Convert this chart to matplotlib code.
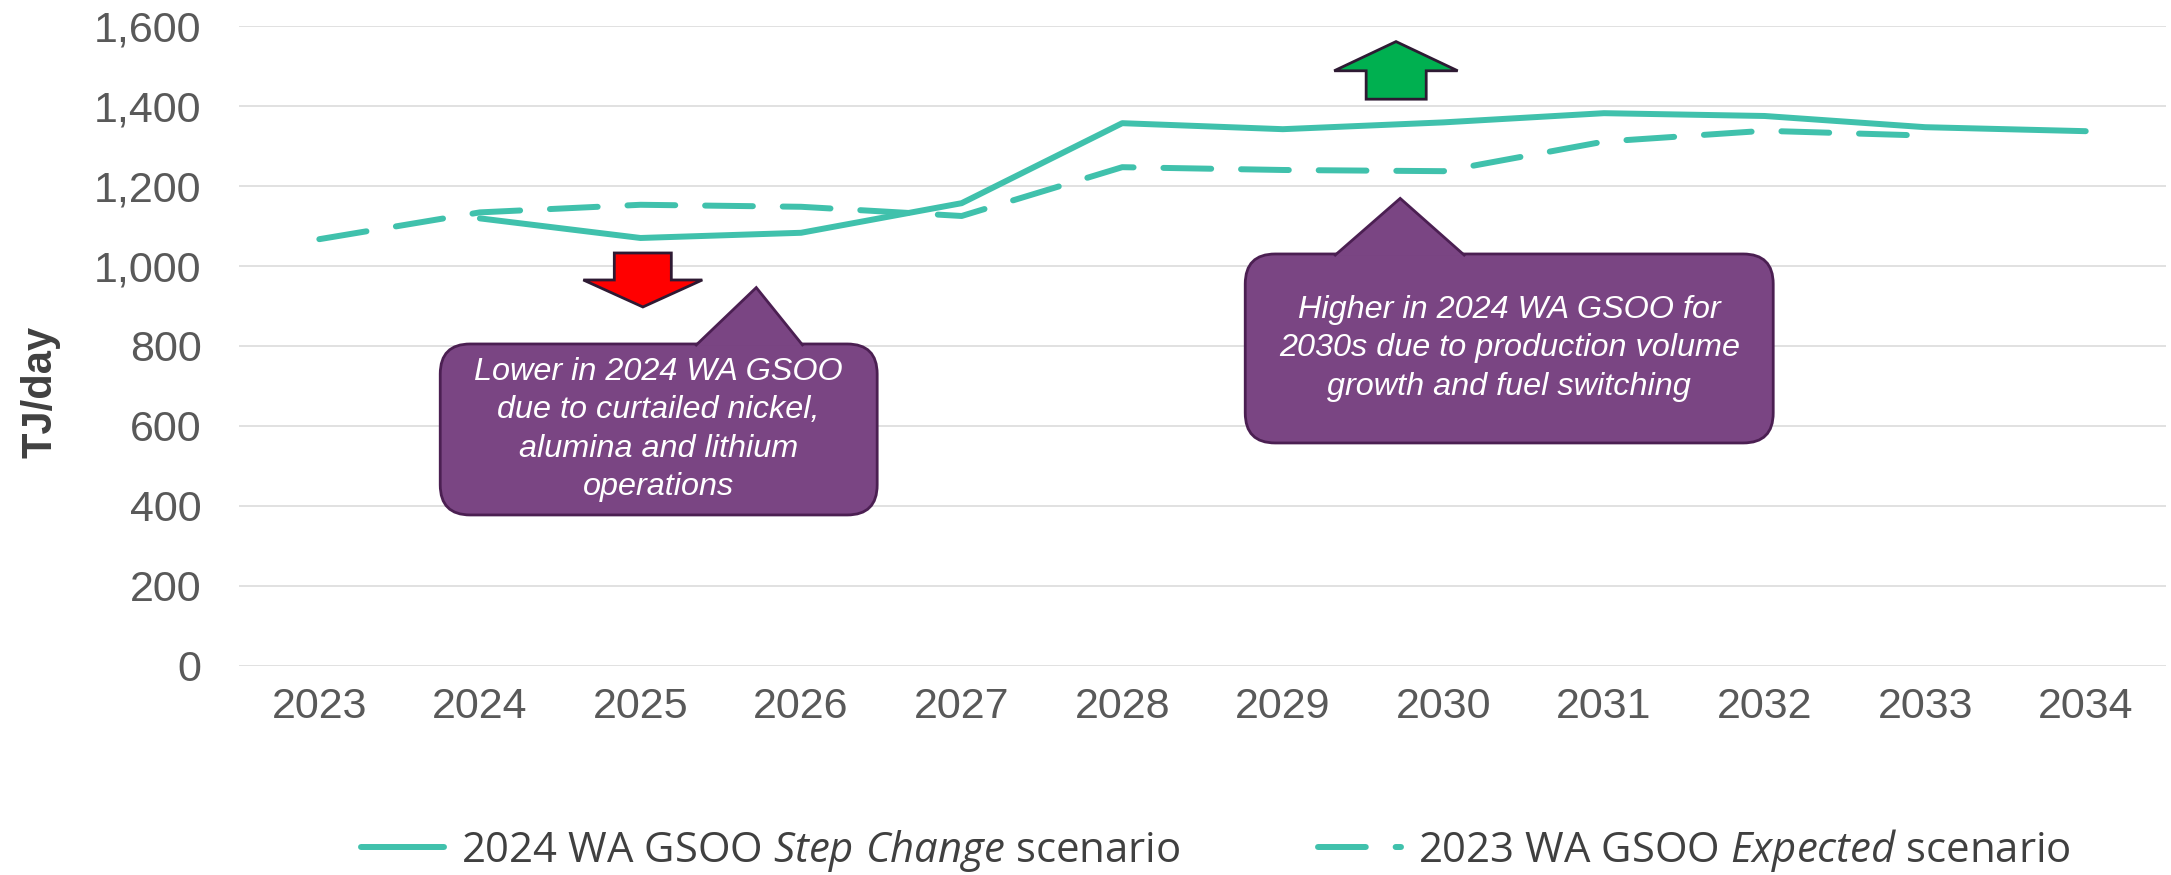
import numpy as np
import matplotlib
matplotlib.use("Agg")
import matplotlib.pyplot as plt
from matplotlib.patches import FancyBboxPatch, Polygon

plt.rcParams["font.family"] = ["Liberation Sans", "DejaVu Sans"]
plt.rcParams["mathtext.fontset"] = "custom"
plt.rcParams["mathtext.rm"] = "Open Sans"
plt.rcParams["mathtext.it"] = "Open Sans:italic"

# data (TJ/day)
years = list(range(2023, 2035))
step_change_2024 = [np.nan, 1119, 1070, 1083, 1157, 1357, 1342, 1359, 1382, 1375, 1347, 1337]
expected_2023 = [1067, 1134, 1153, 1148, 1125, 1247, 1240, 1237, 1311, 1338, 1326, np.nan]
yticks = list(range(0, 1601, 200))

label_step = r"2024 WA GSOO $\mathit{Step\ Change}$ scenario"
label_exp = r"2023 WA GSOO $\mathit{Expected}$ scenario"
note_low = "Lower in 2024 WA GSOO\ndue to curtailed nickel,\nalumina and lithium\noperations"
note_high = "Higher in 2024 WA GSOO for\n2030s due to production volume\ngrowth and fuel switching"

teal = "#40C1AC"
purple = "#7A4583"
purple_edge = "#4B1F52"
grey_txt = "#595959"

fig = plt.figure(figsize=(21.71, 8.75), dpi=100)
ax = fig.add_axes([0.1101, 0.2389, 0.8876, 0.7314])
x = np.arange(len(years))

l1, = ax.plot(x, step_change_2024, color=teal, lw=4.3, solid_capstyle="round",
              solid_joinstyle="round", zorder=3, label=label_step)
l2, = ax.plot(x, expected_2023, color=teal, lw=4.3, dash_capstyle="round",
              dash_joinstyle="round", zorder=3, label=label_exp)
l2.set_dashes((8, 5))

ax.set_xlim(-0.5, len(years) - 0.5)
ax.set_ylim(0, 1600)
ax.set_xticks(x, [str(y) for y in years])
ax.set_yticks(yticks, [f"{v:,}" for v in yticks])
ax.tick_params(length=0, labelsize=31, colors=grey_txt)
ax.tick_params(axis="y", pad=27)
ax.tick_params(axis="x", pad=15)
ax.grid(axis="y", color="#D9D9D9", lw=1.1)
ax.set_axisbelow(True)
for s in ax.spines.values():
    s.set_visible(False)
ax.set_ylabel("TJ/day", fontsize=30, fontweight="bold", color="#404040")
ax.yaxis.set_label_coords(-0.0924, 0.428)

# pixel scale so the rounded corners stay round
p0 = ax.transData.transform((0, 0))
xpp = ax.transData.transform((1, 0))[0] - p0[0]
ypp = ax.transData.transform((0, 1))[1] - p0[1]


def callout(x0, x1, y0, y1, base, apex, text):
    r = 30 / xpp
    box = FancyBboxPatch((x0, y0), x1 - x0, y1 - y0,
                         boxstyle=f"round,pad=0,rounding_size={r}",
                         mutation_aspect=xpp / ypp, fc=purple, ec=purple_edge,
                         lw=2, zorder=5)
    ax.add_patch(box)
    eps = 2 / ypp
    tri = Polygon([(base[0], y1 - eps), apex, (base[1], y1 - eps)], closed=False,
                  fc=purple, ec=purple_edge, lw=2, zorder=6)
    ax.add_patch(tri)
    ax.text((x0 + x1) / 2, (y0 + y1) / 2, text, ha="center", va="center",
            multialignment="center", color="white", fontsize=23.3,
            style="italic", linespacing=1.37, zorder=7)


def arrow(pts, color):
    ax.add_patch(Polygon(pts, closed=True, fc=color, ec="#2E1A33", lw=2, zorder=6))


callout(0.753, 3.474, 377.5, 805, (2.341, 3.014), (2.721, 946), note_low)
callout(5.766, 9.054, 557.5, 1030, (6.32, 7.136), (6.731, 1169), note_high)

arrow([(1.837, 1032.5), (2.192, 1032.5), (2.192, 965), (2.385, 965),
       (2.015, 897.5), (1.644, 965), (1.837, 965)], "#FF0000")
arrow([(6.519, 1417), (6.893, 1417), (6.893, 1488), (7.089, 1488),
       (6.705, 1561), (6.32, 1488), (6.519, 1488)], "#00B050")

fig.legend(handles=[l1, l2], loc="center", bbox_to_anchor=(0.56, 0.028), ncol=2,
           frameon=False, prop={"family": "Open Sans", "size": 30.2},
           labelcolor="#404040", handlelength=1.97, handletextpad=0.4,
           columnspacing=3.3, borderpad=0)

fig.savefig("out.png", dpi=100)
